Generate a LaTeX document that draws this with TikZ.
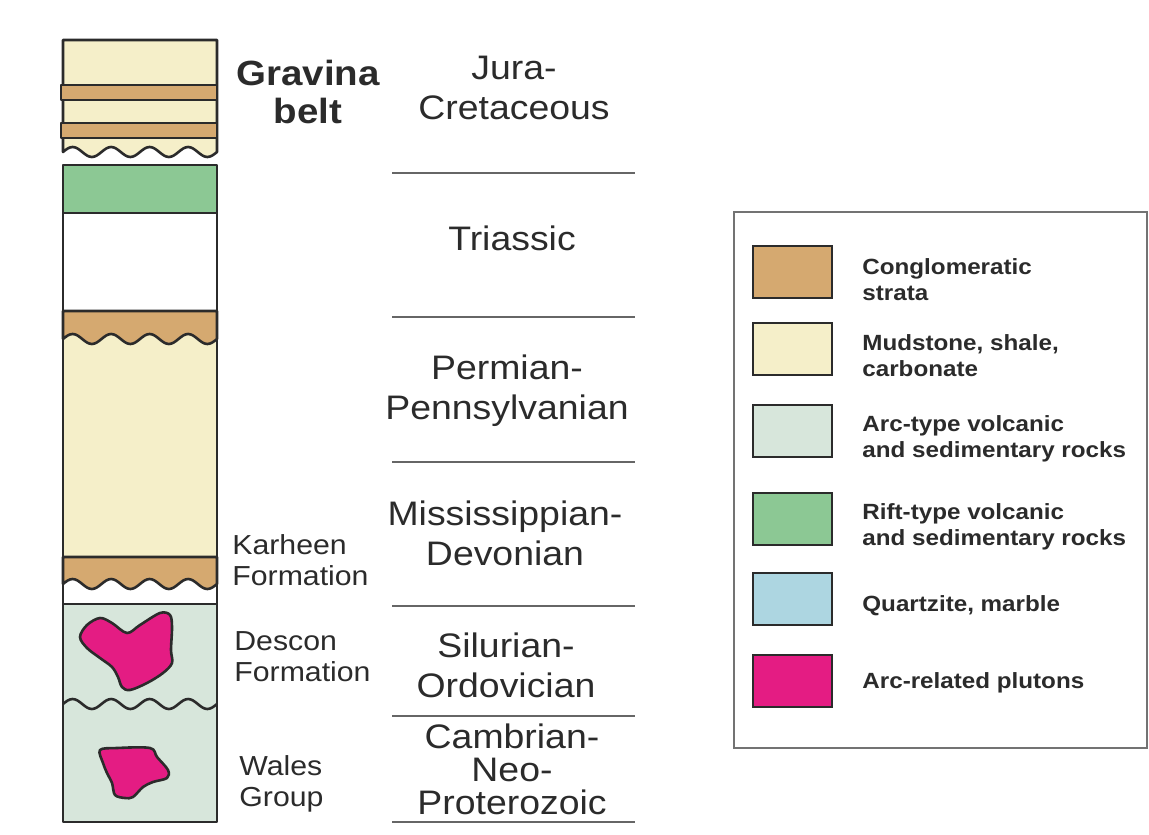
\documentclass[tikz,border=0pt]{standalone}
\usepackage{fontspec}
\setmainfont{Liberation Sans}[FakeStretch=1.1]
\usepackage{tikz}
\usetikzlibrary{positioning}

\definecolor{congl}{HTML}{D5A970}
\definecolor{mud}{HTML}{F5EFC9}
\definecolor{arcvol}{HTML}{D7E6DB}
\definecolor{riftvol}{HTML}{8CC894}
\definecolor{quartz}{HTML}{ADD6E1}
\definecolor{pluton}{HTML}{E41C83}
\definecolor{ink}{HTML}{2B2B2B}

\begin{document}
\begin{tikzpicture}[x=0.5pt,y=-0.5pt,
    unit/.style={draw=ink,line width=1.3pt,line join=round},
    period/.style={font=\fontsize{17}{20}\selectfont,align=center,text=ink},
    fmn/.style={font=\fontsize{13.75}{15.5}\selectfont,align=left,anchor=west,inner sep=0pt,text=ink},
    swatch/.style={draw=ink,line width=1pt,minimum width=39.5pt,minimum height=26pt,inner sep=0pt},
    keytext/.style={font=\bfseries\fontsize{11}{13}\selectfont,align=left,inner sep=0pt,text=ink},
    divider/.style={draw=black!60,line width=0.8pt}]
  \useasboundingbox (0,0) rectangle (1149,834);

  % Gravina belt unit
  \filldraw[unit,fill=mud] (63,40) -- (217,40) -- (217,152)
    \foreach \k in {1,...,4} { sin ++(-9.625,5) cos ++(-9.625,-5) sin ++(-9.625,-5) cos ++(-9.625,5) } -- cycle;
  \foreach \y in {85,123} \filldraw[unit,fill=congl] (61,\y) rectangle (217,\y+15);

  % lower column
  \fill[riftvol] (63,165) rectangle (217,213);
  \fill[mud] (63,311) rectangle (217,557);
  \fill[arcvol] (63,604) rectangle (217,822);
  \foreach \t/\b in {311/339,557/584}
    \filldraw[unit,fill=congl] (63,\t) -- (217,\t) -- (217,\b)
      \foreach \k in {1,...,4} { sin ++(-9.625,5) cos ++(-9.625,-5) sin ++(-9.625,-5) cos ++(-9.625,5) } -- cycle;
  \draw[unit] (217,704)
    \foreach \k in {1,...,4} { sin ++(-9.625,5) cos ++(-9.625,-5) sin ++(-9.625,-5) cos ++(-9.625,5) };
  \foreach \y in {213,311,557,604} \draw[unit] (63,\y) -- (217,\y);
  \draw[unit] (63,165) rectangle (217,822);

  % plutons
  \filldraw[unit,fill=pluton] plot[smooth cycle,tension=0.55] coordinates {(80,637) (87,625) (100,618) (112,623)
    (127,633) (140,625) (160,613) (170,615) (172,627) (171,650) (172,663) (163,673) (147,683) (130,690)
    (122,687) (118,677) (112,667) (100,658) (87,648)};
  \filldraw[unit,fill=pluton] plot[smooth cycle,tension=0.55] coordinates {(100,750) (117,748) (150,748) (157,757)
    (168,770) (167,778) (153,782) (143,787) (133,797) (125,798) (115,795) (112,783) (107,773) (103,763)};

  \node[font=\bfseries\fontsize{17.5}{19}\selectfont,align=center,text=ink] (gravina) at (308,92) {Gravina\\belt};
  \node[fmn] (karheen) at (232,560) {Karheen\\Formation};
  \node[fmn] (descon) at (234,657) {Descon\\Formation};
  \node[fmn] (wales) at (239,784) {Wales\\Group};

  % periods
  \node[period] (jura) at (514,88) {Jura-\\Cretaceous};
  \node[period] (trias) at (512,238) {Triassic};
  \node[period] (perm) at (507,391) {Permian-\\Pennsylvanian};
  \node[period] (miss) at (505,533) {Mississippian-\\Devonian};
  \node[period] (silur) at (506,665) {Silurian-\\Ordovician};
  \node[period,font=\fontsize{17}{16.5}\selectfont] (camb) at (512,769) {Cambrian-\\Neo-\\Proterozoic};
  \foreach \y in {173,317,462,606,716,822} \draw[divider] (392,\y) -- (635,\y);

  % legend
  \draw[black!55,line width=0.8pt] (734,212) rectangle (1147,748);
  \foreach \n/\y/\c/\d/\t in {1/272/congl/-4pt/{Conglomeratic\\strata},
      2/348.5/mud/-3.5pt/{Mudstone, shale,\\carbonate},
      3/430.5/arcvol/-4pt/{Arc-type volcanic\\and sedimentary rocks},
      4/518.5/riftvol/-4pt/{Rift-type volcanic\\and sedimentary rocks},
      5/599/quartz/-3.5pt/{Quartzite, marble},
      6/681/pluton/-1pt/{Arc-related plutons}} {
    \node[swatch,fill=\c] (sw\n) at (792.5,\y) {};
    \node[keytext,right=14.5pt of sw\n,yshift=\d] (key\n) {\t};
  }
\end{tikzpicture}
\end{document}
